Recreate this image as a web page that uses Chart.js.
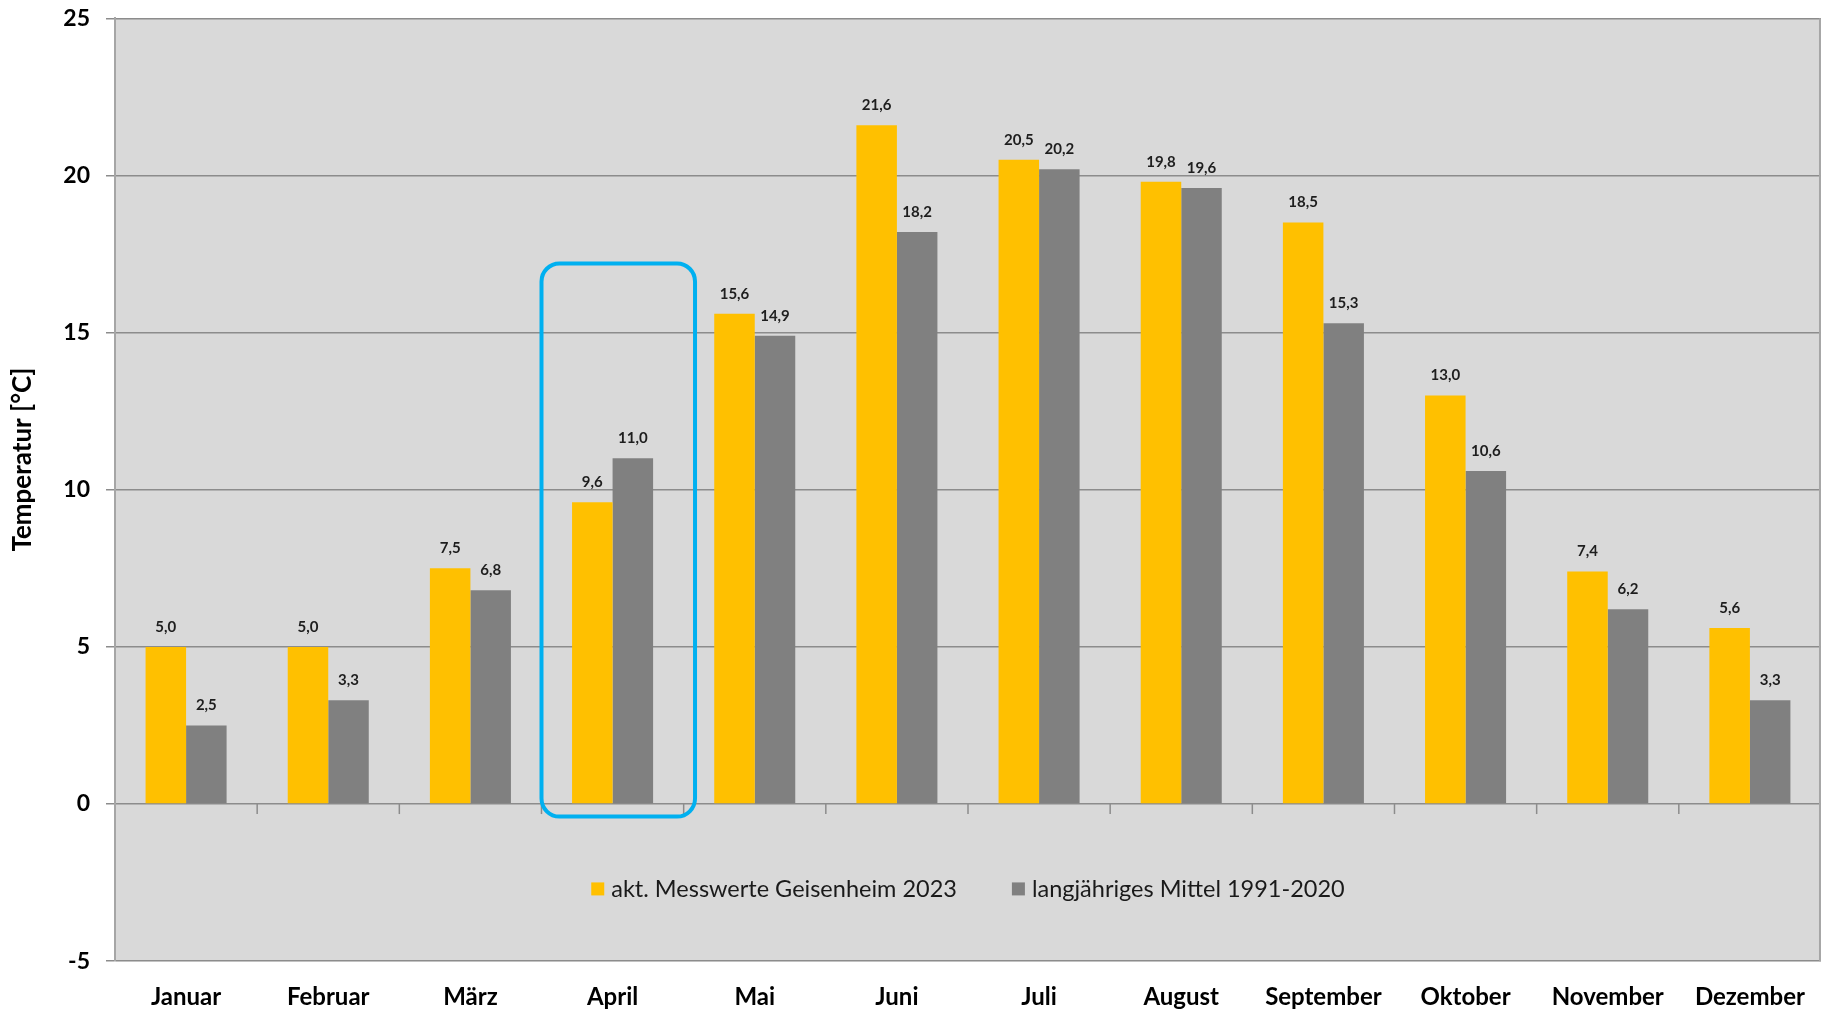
<!DOCTYPE html>
<html>
<head>
<meta charset="utf-8">
<title>Temperatur Geisenheim 2023</title>
<script src="https://cdn.jsdelivr.net/npm/chart.js@4.4.0/dist/chart.umd.min.js"></script>
<style>
  html, body { margin: 0; padding: 0; background: #ffffff; }
  #wrap { width: 1827px; height: 1010px; position: relative; }
</style>
</head>
<body>
<div id="wrap"><canvas id="bar-chart"></canvas></div>
<script>
// Daten
var monate = ["Januar", "Februar", "März", "April", "Mai", "Juni", "Juli", "August", "September", "Oktober", "November", "Dezember"];
var messwerte2023 = [5.0, 5.0, 7.5, 9.6, 15.6, 21.6, 20.5, 19.8, 18.5, 13.0, 7.4, 5.6];
var mittel19912020 = [2.5, 3.3, 6.8, 11.0, 14.9, 18.2, 20.2, 19.6, 15.3, 10.6, 6.2, 3.3];
var serienNamen = ["akt. Messwerte Geisenheim 2023", "langjähriges Mittel 1991-2020"];
var yMin = -5, yMax = 25, yStep = 5;
var achsenTitel = "Temperatur [°C]";

var FONT = "Lato, 'Open Sans', sans-serif";

// Hintergrund, Rahmen, Ticks an der Nulllinie, Werte, Markierung, Legende
var extras = {
  id: 'extras',
  beforeDraw: function(chart) {
    var a = chart.chartArea, ctx = chart.ctx;
    ctx.save();
    ctx.fillStyle = '#d9d9d9';
    ctx.fillRect(a.left, a.top, a.right - a.left, a.bottom - a.top);
    ctx.restore();
  },
  beforeDatasetsDraw: function(chart) {
    var ctx = chart.ctx, x = chart.scales.x, y = chart.scales.y;
    var y0 = y.getPixelForValue(0);
    var cw = x.width / monate.length;
    ctx.save();
    ctx.strokeStyle = '#8c8c8c';
    ctx.lineWidth = 1.5;
    for (var i = 1; i < monate.length; i++) {
      var px = x.getPixelForValue(i) - cw / 2;
      ctx.beginPath();
      ctx.moveTo(px, y0);
      ctx.lineTo(px, y0 + 10);
      ctx.stroke();
    }
    ctx.restore();
  },
  afterDatasetsDraw: function(chart) {
    var ctx = chart.ctx, a = chart.chartArea;
    var x = chart.scales.x, y = chart.scales.y;

    // Datenbeschriftung
    ctx.save();
    ctx.font = "bold 15px " + FONT;
    ctx.fillStyle = '#1e1e1e';
    ctx.textAlign = 'center';
    ctx.textBaseline = 'middle';
    chart.data.datasets.forEach(function(ds, di) {
      chart.getDatasetMeta(di).data.forEach(function(bar, i) {
        ctx.fillText(ds.data[i].toFixed(1).replace('.', ','), bar.x, bar.y - 20);
      });
    });
    ctx.restore();

    // rechter Rahmen
    ctx.save();
    ctx.strokeStyle = '#a6a6a6';
    ctx.lineWidth = 2;
    ctx.beginPath();
    ctx.moveTo(a.right - 1, a.top);
    ctx.lineTo(a.right - 1, a.bottom);
    ctx.stroke();
    ctx.restore();

    // Markierung April
    var cw = x.width / monate.length;
    var cx = x.getPixelForValue(3);
    var bx0 = cx - 0.5 * cw, bx1 = cx + 0.58 * cw;
    var by0 = y.getPixelForValue(17.2), by1 = y.getPixelForValue(-0.4);
    ctx.save();
    ctx.strokeStyle = '#00b0f0';
    ctx.lineWidth = 4;
    ctx.beginPath();
    ctx.roundRect(bx0, by0, bx1 - bx0, by1 - by0, 18);
    ctx.stroke();
    ctx.restore();

    // Legende
    ctx.save();
    ctx.font = "23.5px " + FONT;
    ctx.textBaseline = 'middle';
    var box = 13, gapText = 7, gapItem = 55;
    var widths = serienNamen.map(function(t) { return ctx.measureText(t).width; });
    var total = widths.reduce(function(s, w) { return s + box + gapText + w; }, 0) + gapItem * (serienNamen.length - 1);
    var lx = (a.left + a.right) / 2 - total / 2;
    var ly = y.getPixelForValue(-2.7);
    serienNamen.forEach(function(t, i) {
      ctx.fillStyle = chart.data.datasets[i].backgroundColor;
      ctx.fillRect(lx, ly - box / 2, box, box);
      ctx.fillStyle = '#1a1a1a';
      ctx.fillText(t, lx + box + gapText, ly + 1);
      lx += box + gapText + widths[i] + gapItem;
    });
    ctx.restore();

    // Achsentitel
    ctx.save();
    ctx.font = "bold 26px " + FONT;
    ctx.fillStyle = '#000';
    ctx.textAlign = 'center';
    ctx.textBaseline = 'middle';
    ctx.translate(23, a.top + 0.468 * (a.bottom - a.top));
    ctx.rotate(-Math.PI / 2);
    ctx.fillText(achsenTitel, 0, 0);
    ctx.restore();
  }
};

var ctx = document.getElementById("bar-chart").getContext("2d");
var myChart = new Chart(ctx, {
  type: 'bar',
  data: {
    labels: monate,
    datasets: [{
      label: serienNamen[0],
      data: messwerte2023,
      backgroundColor: '#ffc000',
      borderWidth: 0
    }, {
      label: serienNamen[1],
      data: mittel19912020,
      backgroundColor: '#808080',
      borderWidth: 0
    }]
  },
  options: {
    responsive: true,
    maintainAspectRatio: false,
    animation: false,
    layout: { padding: { top: 18, right: 2, bottom: -24, left: 0 } },
    datasets: { bar: { categoryPercentage: 0.57, barPercentage: 1.0 } },
    plugins: {
      legend: { display: false },
      tooltip: { enabled: false }
    },
    scales: {
      x: {
        grid: { display: false, drawTicks: false },
        border: { display: false },
        ticks: {
          padding: 22,
          color: '#000',
          font: { family: FONT, size: 24, weight: 'bold' },
          maxRotation: 0,
          autoSkip: false
        }
      },
      y: {
        min: yMin,
        max: yMax,
        afterFit: function(scale) { scale.width = 115; },
        grid: { color: '#8c8c8c', lineWidth: 1.5, tickLength: 9, drawTicks: true },
        border: { display: true, color: '#a6a6a6', width: 2 },
        ticks: {
          stepSize: yStep,
          padding: 16,
          color: '#000',
          font: { family: FONT, size: 23, weight: 'bold', lineHeight: 0.2 }
        }
      }
    }
  },
  plugins: [extras]
});
</script>
</body>
</html>
